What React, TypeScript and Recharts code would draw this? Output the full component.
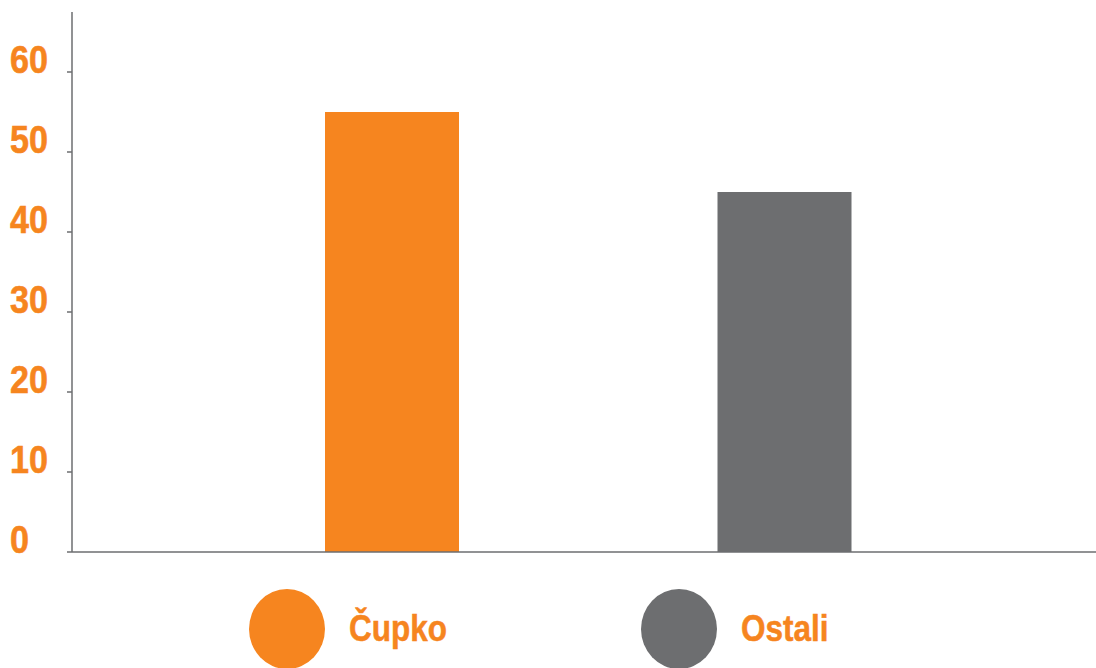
import React from "react";
import { BarChart, Bar, XAxis, YAxis, Cell } from "recharts";

const categories = ["Čupko", "Ostali"];
const values = [55, 45];
const colors = ["#F6851F", "#6D6E70"];
const yTicks = [0, 10, 20, 30, 40, 50, 60];

const data = categories.map((name, i) => ({ name, value: values[i] }));

const FONT = "'Liberation Sans', Arial, Helvetica, sans-serif";
const ORANGE = "#F6851F";
const AXIS = "#6D6E70";
const SQUEEZE = 0.875;

const YTick = (props: any) => {
  const { y, payload } = props;
  return (
    <text
      transform={`translate(10, ${y + 1}) scale(${SQUEEZE}, 1)`}
      x={0}
      y={0}
      fill={ORANGE}
      stroke={ORANGE}
      strokeWidth={0.6}
      fontFamily={FONT}
      fontWeight={700}
      fontSize={39}
      textAnchor="start"
    >
      {payload.value}
    </text>
  );
};

const ChartLegend = () => (
  <div style={{ position: "absolute", left: 0, top: 589, width: 1096, height: 79, overflow: "hidden" }}>
    {categories.map((c, i) => (
      <div key={c} style={{ position: "absolute", left: 249 + i * 392, top: 0, width: 260, height: 79 }}>
        <div
          style={{
            position: "absolute",
            left: 0,
            top: 0,
            width: 76,
            height: 80,
            borderRadius: "50%",
            background: colors[i],
          }}
        />
        <div
          style={{
            position: "absolute",
            left: 100,
            top: 18,
            color: ORANGE,
            fontFamily: FONT,
            fontWeight: 700,
            fontSize: 36,
            lineHeight: "44px",
            whiteSpace: "nowrap",
            transform: `scaleX(${SQUEEZE})`,
            transformOrigin: "left center",
            WebkitTextStroke: `0.5px ${ORANGE}`,
          }}
        >
          {c}
        </div>
      </div>
    ))}
  </div>
);

export default function App() {
  return (
    <div style={{ position: "absolute", left: 0, top: 0, width: 1096, height: 668, background: "#fff" }}>
      <BarChart width={1096} height={668} data={data} margin={{ top: 12, right: 0, left: 0, bottom: 86 }}>
        <XAxis
          dataKey="name"
          tick={false}
          tickLine={false}
          axisLine={{ stroke: AXIS, strokeWidth: 1.5 }}
          padding={{ left: 124, right: 115 }}
          height={30}
        />
        <YAxis
          width={72}
          domain={[0, 67.5]}
          ticks={yTicks}
          tick={<YTick />}
          tickSize={5}
          tickLine={{ stroke: AXIS, strokeWidth: 1.5 }}
          axisLine={{ stroke: AXIS, strokeWidth: 1.5 }}
          allowDataOverflow
        />
        <Bar dataKey="value" barSize={134} isAnimationActive={false}>
          {data.map((d, i) => (
            <Cell key={d.name} fill={colors[i]} />
          ))}
        </Bar>
      </BarChart>
      <ChartLegend />
    </div>
  );
}
